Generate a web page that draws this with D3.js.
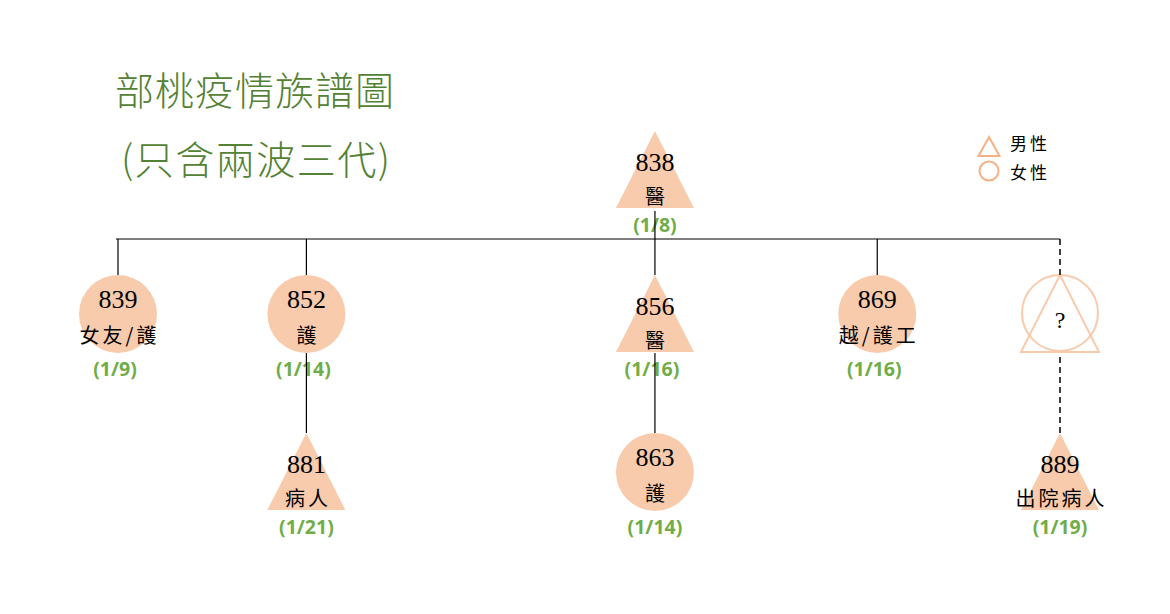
<!DOCTYPE html>
<html><head><meta charset="utf-8">
<script src="https://cdn.jsdelivr.net/npm/d3@7/dist/d3.min.js"></script>
<style>
html,body{margin:0;padding:0;background:#fff;}
svg{display:block;}
</style></head>
<body>
<svg id="chart" width="1170" height="614"></svg>
<script>
// ---- data ----
const titleLines = ["部桃疫情族譜圖", "(只含兩波三代)"];
const nodeIds     = ["838", "839", "852", "856", "869", "?", "881", "863", "889"];
const occupations = ["醫", "女友/護", "護", "醫", "越/護工", "", "病人", "護", "出院病人"];
const onsetDates  = ["(1/8)", "(1/9)", "(1/14)", "(1/16)", "(1/16)", "", "(1/21)", "(1/14)", "(1/19)"];
const sexes       = ["M", "F", "F", "M", "F", "U", "M", "F", "M"];
const generations = [0, 1, 1, 1, 1, 1, 2, 2, 2];
const parents     = [null, "838", "838", "838", "838", "838", "852", "856", "?"];
const columns     = [2.85, 0, 1, 2.85, 4.03, 5, 1, 2.85, 5];
const legendLabels = ["男性", "女性"];
const legendSexes  = ["M", "F"];

// ---- layout ----
const svg = d3.select("#chart");
const fill = "#F8CBAD", legendStroke = "#F4B183", green = "#70AD47", titleGreen = "#548235";
const x = d3.scaleLinear().domain([0, 5]).range([118, 1060]);
const y = d3.scaleLinear().domain([0, 1, 2]).range([131, 275, 433]); // node top
const S = 78; // node size

const nodes = nodeIds.map((id, i) => ({
  id, occ: occupations[i], date: onsetDates[i], sex: sexes[i],
  gen: generations[i], parent: parents[i], cx: x(columns[i]), top: y(generations[i])
}));
const byId = new Map(nodes.map(d => [d.id, d]));

// title
svg.selectAll("text.title").data(titleLines).join("text")
  .attr("class", "title")
  .attr("x", (d, i) => i === 0 ? 115 : 121)
  .attr("y", (d, i) => i === 0 ? 88 : 157)
  .attr("dominant-baseline", "central")
  .attr("font-family", "'Noto Sans CJK TC','Noto Sans CJK SC',sans-serif")
  .attr("font-weight", 300)
  .attr("font-size", 39)
  .attr("letter-spacing", (d, i) => i === 0 ? 1 : 1.5)
  .attr("fill", titleGreen)
  .text(d => d);

function triPath(cx, top, size) {
  return d3.line()([[cx, top], [cx + size / 2, top + size - 1], [cx - size / 2, top + size - 1]]) + "Z";
}

// nodes
const g = svg.append("g");
nodes.forEach(d => {
  if (d.sex === "M") {
    g.append("path").attr("d", triPath(d.cx, d.top, S)).attr("fill", fill);
  } else if (d.sex === "F") {
    g.append("circle").attr("cx", d.cx).attr("cy", d.top + S / 2).attr("r", S / 2).attr("fill", fill);
  } else {
    g.append("circle").attr("cx", d.cx).attr("cy", d.top + S / 2 - 1).attr("r", S / 2 - 1)
      .attr("fill", "none").attr("stroke", fill).attr("stroke-width", 2);
    g.append("path").attr("d", triPath(d.cx, d.top, S)).attr("fill", "none")
      .attr("stroke", fill).attr("stroke-width", 2);
    g.append("text").attr("x", d.cx).attr("y", d.top + S / 2 + 6)
      .attr("text-anchor", "middle").attr("dominant-baseline", "central")
      .attr("font-family", "'Liberation Serif',serif").attr("font-size", 24)
      .attr("fill", "#000").text(d.id);
    return;
  }
  const tri = d.sex === "M";
  g.append("text").attr("x", d.cx).attr("y", d.top + (tri ? 31 : 24))
    .attr("text-anchor", "middle").attr("dominant-baseline", "central")
    .attr("font-family", "'Liberation Serif',serif").attr("font-size", 26)
    .attr("fill", "#000").text(d.id);
  g.append("text").attr("x", d.cx + (d.occ.length > 1 ? 1.5 : 0)).attr("y", d.top + (tri ? 64 : 59))
    .attr("text-anchor", "middle").attr("dominant-baseline", "central")
    .attr("font-family", "'Noto Sans CJK TC','Noto Sans CJK SC',sans-serif").attr("font-size", 20)
    .attr("letter-spacing", d.occ.length > 1 ? 3 : 0)
    .attr("fill", "#000").text(d.occ);
  g.append("text").attr("x", d.cx - (d.gen === 1 ? 3 : 0)).attr("y", d.top + 93)
    .attr("text-anchor", "middle").attr("dominant-baseline", "central")
    .attr("font-family", "'Open Sans',sans-serif").attr("font-weight", 700).attr("font-size", 19.5)
    .attr("fill", green).text(d.date);
});

// links
const links = svg.append("g").attr("stroke", "#000").attr("stroke-width", 1.2).attr("fill", "none");
const root = nodes.find(d => d.parent === null);
const gen1 = nodes.filter(d => d.gen === 1);
const busY = (root.top + S + y(1)) / 2 - 3;
links.append("line").attr("x1", root.cx).attr("x2", root.cx).attr("y1", root.top + S + 2).attr("y2", busY);
links.append("line").attr("x1", d3.min(gen1, d => d.cx) - 2).attr("x2", d3.max(gen1, d => d.cx))
  .attr("y1", busY).attr("y2", busY);
gen1.forEach(d => {
  links.append("line").attr("x1", d.cx).attr("x2", d.cx).attr("y1", busY).attr("y2", d.top)
    .attr("stroke-dasharray", d.sex === "U" ? "6,4" : null).attr("stroke-width", d.sex === "U" ? 1.5 : 1.2);
});
nodes.filter(d => d.gen === 2).forEach(d => {
  const p = byId.get(d.parent);
  const unknown = p.sex === "U";
  links.append("line").attr("x1", p.cx).attr("x2", d.cx)
    .attr("y1", p.top + S + (unknown ? 4 : 0)).attr("y2", d.top)
    .attr("stroke-dasharray", unknown ? "6,4" : null).attr("stroke-width", unknown ? 1.5 : 1.2);
});

// legend
const leg = svg.append("g");
legendLabels.forEach((lab, i) => {
  const cy = 147 + i * 24;
  if (legendSexes[i] === "M") {
    leg.append("path").attr("d", d3.line()([[989, cy - 10], [999.5, cy + 9], [978.5, cy + 9]]) + "Z")
      .attr("fill", "none").attr("stroke", legendStroke).attr("stroke-width", 2);
  } else {
    leg.append("circle").attr("cx", 989).attr("cy", cy).attr("r", 9.5)
      .attr("fill", "none").attr("stroke", legendStroke).attr("stroke-width", 2);
  }
  leg.append("text").attr("x", 1010).attr("y", i === 0 ? 142 : 171)
    .attr("dominant-baseline", "central")
    .attr("font-family", "'Noto Sans CJK TC','Noto Sans CJK SC',sans-serif").attr("font-size", 17)
    .attr("letter-spacing", 3).attr("fill", "#000").text(lab);
});
</script>
</body></html>
